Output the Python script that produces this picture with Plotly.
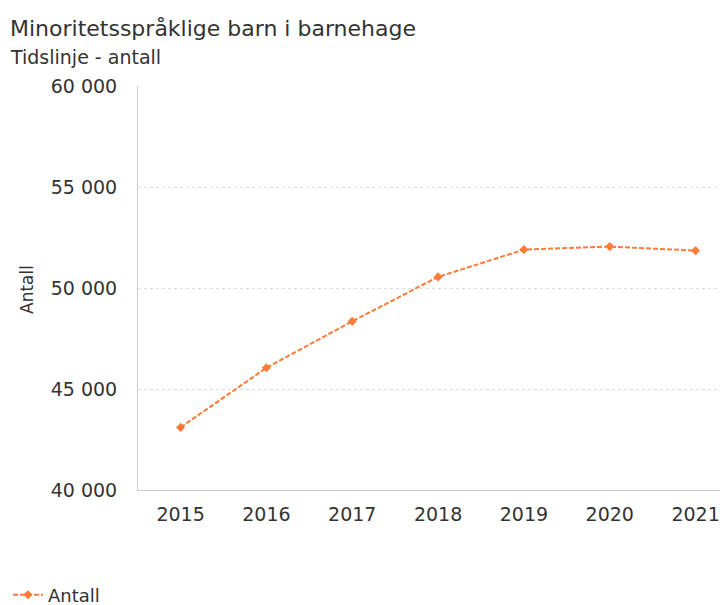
import plotly.graph_objects as go

years = ["2015", "2016", "2017", "2018", "2019", "2020", "2021"]
antall = [43100, 46050, 48350, 50550, 51900, 52050, 51850]
y_ticks = [40000, 45000, 50000, 55000, 60000]
y_tick_labels = ["40 000", "45 000", "50 000", "55 000", "60 000"]

orange = "#FF7B3A"
txt = "#333333"
font_family = "DejaVu Sans"

# page body has an 8px margin, so the figure is laid out in shifted coordinates
OFF = 8
W, H = 728 - OFF, 605 - OFF
L, R, T = 138 - OFF, 0, 86 - OFF
B = H - (490 - OFF)
pw, ph = W - L - R, H - T - B


def px_x(x):
    return (x - OFF - L) / pw


def px_y(y):
    return (H - B - (y - OFF)) / ph


fig = go.Figure()
fig.add_trace(go.Scatter(
    x=years, y=antall, name="Antall", mode="lines+markers",
    line=dict(color=orange, width=2, dash="5px,2px"),
    marker=dict(symbol="diamond", size=7, color=orange),
))

fig.update_layout(
    width=W, height=H,
    margin=dict(l=L, r=R, t=T, b=B, autoexpand=False),
    paper_bgcolor="white", plot_bgcolor="white",
    font=dict(family=font_family, color=txt, size=19),
    showlegend=True,
    legend=dict(
        orientation="h", x=px_x(8), xanchor="left", xref="paper",
        y=px_y(595), yanchor="middle", yref="paper",
        font=dict(size=18, color=txt),
    ),
    xaxis=dict(
        type="category", range=[-0.496, 6.378],
        showgrid=False, showline=True, linecolor="#cccccc",
        linewidth=1, ticks="", ticklabelstandoff=7, zeroline=False,
        automargin=False, tickfont=dict(size=19, color=txt),
    ),
    yaxis=dict(
        range=[40000, 60000], tickvals=y_ticks, ticktext=y_tick_labels,
        showgrid=True, gridcolor="#dddddd", griddash="dot", gridwidth=1,
        showline=True, linecolor="#cccccc", linewidth=1, zeroline=False,
        ticks="", ticklabelstandoff=16, automargin=False,
        tickfont=dict(size=19, color=txt),
    ),
    annotations=[
        dict(text="Minoritetsspråklige barn i barnehage", xref="paper", yref="paper",
             x=px_x(8), y=px_y(28), xanchor="left", yanchor="middle",
             showarrow=False, font=dict(size=22, color=txt)),
        dict(text="Tidslinje - antall", xref="paper", yref="paper",
             x=px_x(8), y=px_y(57), xanchor="left", yanchor="middle",
             showarrow=False, font=dict(size=19, color=txt)),
        dict(text="Antall", xref="paper", yref="paper", textangle=-90,
             x=px_x(27), y=px_y(290), xanchor="center", yanchor="middle",
             showarrow=False, font=dict(size=17, color=txt)),
    ],
)

fig.write_html("out.html")
